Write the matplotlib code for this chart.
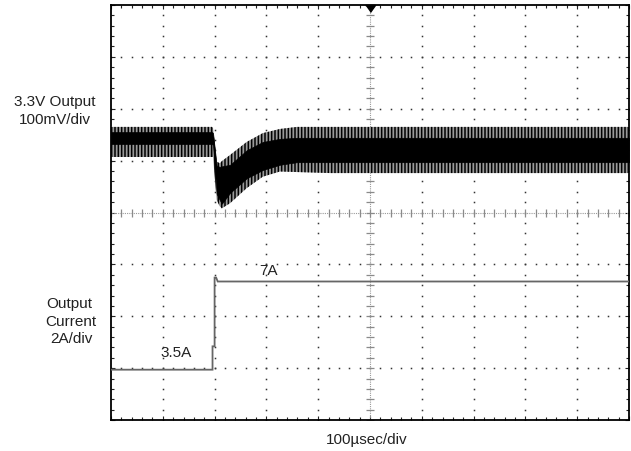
import numpy as np
import matplotlib
matplotlib.use("Agg")
import matplotlib.pyplot as plt

plt.rcParams['font.family'] = ['Liberation Sans', 'DejaVu Sans']
plt.rcParams['hatch.linewidth'] = 1.1

# ---------------- data ----------------
# time base: 100 usec/div, trigger at the screen centre
time_us = [-500, -305, -303, -296, -290, -286, -270, -238, -207, -174, -141, -77, 500]
# 3.3 V output, AC coupled, deviation in mV (100 mV/div): ripple envelopes
v_outer_top = [29, 29, 27, -38, -41, -37, -25, 0, 17, 25, 29, 29, 29]
v_outer_bot = [-29, -29, -29, -112, -124, -128, -118, -89, -67, -57, -58, -60, -60]
v_core_top = [19, 19, 17, -46, -48, -47, -44, -16, 0, 6, 8, 8, 8]
v_core_bot = [-4, -4, -6, -100, -112, -119, -98, -70, -54, -44, -39, -39, -39]

# output current step (2 A/div)
i_time_us = [-500, -304, -304, -300, -300, -297, -294, 500]
i_amps = [3.5, 3.5, 4.4, 4.4, 7.05, 7.05, 6.9, 6.9]

# channel settings
T_PER_DIV = 100.0
V_PER_DIV = 100.0
V_POS = 1.36
I_PER_DIV = 2.0
I_POS = -4.78

W, H = 631, 451
fig = plt.figure(figsize=(W / 100, H / 100), dpi=100)
ax = fig.add_axes([111 / W, 1 - 420 / H, (629 - 111) / W, (420 - 5) / H])
ax.set_xlim(-5, 5)
ax.set_ylim(-4, 4)

# ---------------- graticule ----------------
dot_kw = dict(ls='none', marker='s', ms=1.1, mec='none', mfc='#333333')
minor = np.arange(-5, 5.001, 0.2)
minor_y = np.arange(-4, 4.001, 0.2)
for gx in range(-4, 5):
    if gx != 0:
        ax.plot(np.full_like(minor_y, gx), minor_y, **dot_kw)
for gy in range(-3, 4):
    if gy != 0:
        ax.plot(minor, np.full_like(minor, gy), **dot_kw)
# centre axes with ticks
ax.axhline(0, color='#9a9a9a', lw=0.8, ls=(0, (1, 1)))
ax.axvline(0, color='#9a9a9a', lw=0.8, ls=(0, (1, 1)))
ax.plot(minor, np.zeros_like(minor), ls='none', marker='|', ms=6, mew=0.9, color='#8a8a8a')
ax.plot(np.zeros_like(minor_y), minor_y, ls='none', marker='_', ms=6, mew=0.9, color='#8a8a8a')

ax.set_xticks(np.arange(-5, 5.001, 1))
ax.set_yticks(np.arange(-4, 4.001, 1))
ax.set_xticks(minor, minor=True)
ax.set_yticks(minor_y, minor=True)
ax.tick_params(which='both', direction='in', top=True, right=True,
               labelbottom=False, labelleft=False, color='#222222')
ax.tick_params(which='major', length=3, width=0.8)
ax.tick_params(which='minor', length=2, width=0.8)
for s in ax.spines.values():
    s.set_linewidth(1.3)
    s.set_color('black')

# ---------------- traces ----------------
tx = np.array(time_us) / T_PER_DIV
def vdiv(a):
    return np.array(a) / V_PER_DIV + V_POS

ax.fill_between(tx, vdiv(v_outer_bot), vdiv(v_outer_top), facecolor='#9a9a9a',
                edgecolor='black', hatch='|||||', linewidth=0, zorder=3)
ax.fill_between(tx, vdiv(v_core_bot), vdiv(v_core_top), facecolor='black',
                edgecolor='black', linewidth=0.5, zorder=4)

ax.plot(np.array(i_time_us) / T_PER_DIV, np.array(i_amps) / I_PER_DIV + I_POS,
        color='#666666', lw=1.3, zorder=5, solid_joinstyle='miter')

# trigger marker
ax.plot([0], [4], marker=[(-5, 0), (5, 0), (0, -7)], ms=10, color='black',
        clip_on=False, zorder=6)

# ---------------- labels ----------------
def ftext(x, y, s):
    fig.text(x / W, 1 - y / H, s, ha='center', va='baseline', fontsize=11, color='#222222')

ftext(55, 106, '3.3V Output')
ftext(55, 124, '100mV/div')
ftext(69, 308, 'Output')
ftext(71, 326, 'Current')
ftext(71, 343, '2A/div')
ftext(176, 357, '3.5A')
ftext(269, 275, '7A')
ftext(367, 444, '100\u00b5sec/div')

fig.savefig('out.png', dpi=100)
